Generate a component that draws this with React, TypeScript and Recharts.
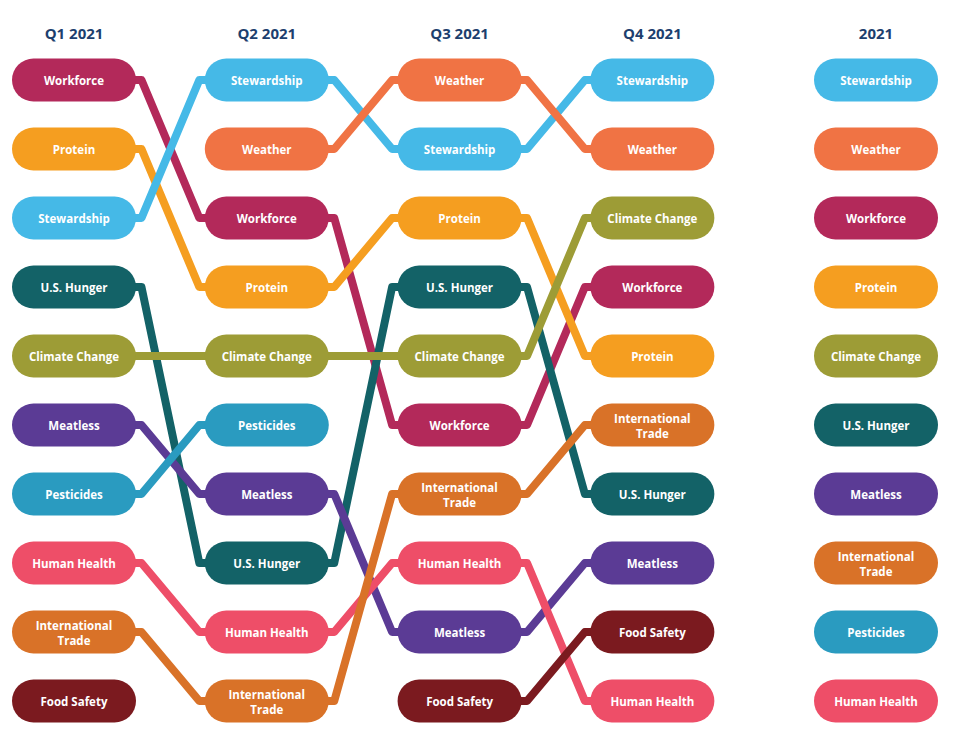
import React from 'react';
import { ComposedChart, Line, Scatter, XAxis, YAxis } from 'recharts';

// Columns
const PERIODS = ['Q1 2021', 'Q2 2021', 'Q3 2021', 'Q4 2021', '2021'];

// Rank of each topic per period [Q1, Q2, Q3, Q4, 2021]; null = not ranked
const workforce = [1, 3, 6, 4, 3];
const protein = [2, 4, 3, 5, 4];
const stewardship = [3, 1, 2, 1, 1];
const usHunger = [4, 8, 4, 7, 6];
const climateChange = [5, 5, 5, 3, 5];
const meatless = [6, 7, 9, 8, 7];
const pesticides = [7, 6, null, null, 9];
const humanHealth = [8, 9, 8, 10, 10];
const internationalTrade = [9, 10, 7, 6, 8];
const foodSafety = [10, null, 10, 9, null];
const weather = [null, 2, 1, 2, 2];

const TOPICS = [
  'Workforce', 'Protein', 'Stewardship', 'U.S. Hunger', 'Climate Change', 'Meatless',
  'Pesticides', 'Human Health', 'International Trade', 'Food Safety', 'Weather',
];
const RANKS = [
  workforce, protein, stewardship, usHunger, climateChange, meatless,
  pesticides, humanHealth, internationalTrade, foodSafety, weather,
];

// Styles
const COLORS = [
  '#B3295A', '#F59E20', '#45B9E7', '#136267', '#9D9C36', '#5B3B95',
  '#2A9BC0', '#EE4E68', '#D97228', '#7B1A1F', '#F07344',
];
const COLUMN_POS = [0, 1, 2, 3, 4.16];
const EDGE = 0.35;
const PILL_W = 124;
const PILL_H = 43;
const FONT = '"Open Sans", "DejaVu Sans", sans-serif';

const QUARTER_COUNT = 4;

const lineData = RANKS.map((r) => {
  const pts: { x: number; y: number | null }[] = [];
  for (let i = 0; i < QUARTER_COUNT - 1; i++) {
    const a = r[i];
    const b = r[i + 1];
    if (a != null && b != null) {
      pts.push({ x: COLUMN_POS[i], y: a });
      pts.push({ x: COLUMN_POS[i] + EDGE, y: a });
      pts.push({ x: COLUMN_POS[i + 1] - EDGE, y: b });
      pts.push({ x: COLUMN_POS[i + 1], y: b });
    } else {
      pts.push({ x: COLUMN_POS[i] + 0.5, y: null });
    }
  }
  return pts;
});

const pillData: { x: number; y: number; name: string; color: string }[] = [];
PERIODS.forEach((_, c) => {
  RANKS.forEach((r, t) => {
    const v = r[c];
    if (v != null) pillData.push({ x: COLUMN_POS[c], y: v, name: TOPICS[t], color: COLORS[t] });
  });
});

const Pill = (props: any) => {
  const { cx, cy, payload } = props;
  if (cx == null || cy == null) return null;
  const words = payload.name === 'International Trade' ? ['International', 'Trade'] : [payload.name];
  return (
    <g>
      <rect
        x={cx - PILL_W / 2}
        y={cy - PILL_H / 2}
        width={PILL_W}
        height={PILL_H}
        rx={PILL_H / 2}
        ry={PILL_H / 2}
        fill={payload.color}
      />
      {words.map((w, i) => (
        <text
          key={i}
          x={cx}
          y={cy + (words.length === 1 ? 0 : i === 0 ? -7 : 8)}
          textAnchor="middle"
          dominantBaseline="central"
          fill="#ffffff"
          fontFamily={FONT}
          fontWeight={700}
          fontSize={11.5}
        >
          {w}
        </text>
      ))}
    </g>
  );
};

const TitleTick = (props: any) => {
  const { x, payload } = props;
  const idx = COLUMN_POS.indexOf(payload.value);
  return (
    <text
      x={x}
      y={33}
      textAnchor="middle"
      dominantBaseline="central"
      fill="#1D3F6E"
      fontFamily={FONT}
      fontWeight={700}
      fontSize={15}
    >
      {PERIODS[idx]}
    </text>
  );
};

export default function App() {
  return (
    <div style={{ position: 'absolute', left: 0, top: 0, background: '#fff' }}>
      <ComposedChart width={958} height={756} margin={{ top: 40, right: 82, bottom: 55, left: 74 }}>
        <XAxis
          type="number"
          dataKey="x"
          orientation="top"
          domain={[0, COLUMN_POS[COLUMN_POS.length - 1]]}
          ticks={COLUMN_POS}
          tick={<TitleTick />}
          axisLine={false}
          tickLine={false}
          height={40}
        />
        <YAxis type="number" dataKey="y" domain={[1, 10]} reversed hide />
        {lineData.map((d, i) => (
          <Line
            key={TOPICS[i]}
            data={d}
            dataKey="y"
            type="linear"
            stroke={COLORS[i]}
            strokeWidth={8}
            strokeLinejoin="round"
            strokeLinecap="round"
            dot={false}
            activeDot={false}
            connectNulls={false}
            isAnimationActive={false}
          />
        ))}
        <Scatter data={pillData} dataKey="y" shape={<Pill />} isAnimationActive={false} />
      </ComposedChart>
    </div>
  );
}
